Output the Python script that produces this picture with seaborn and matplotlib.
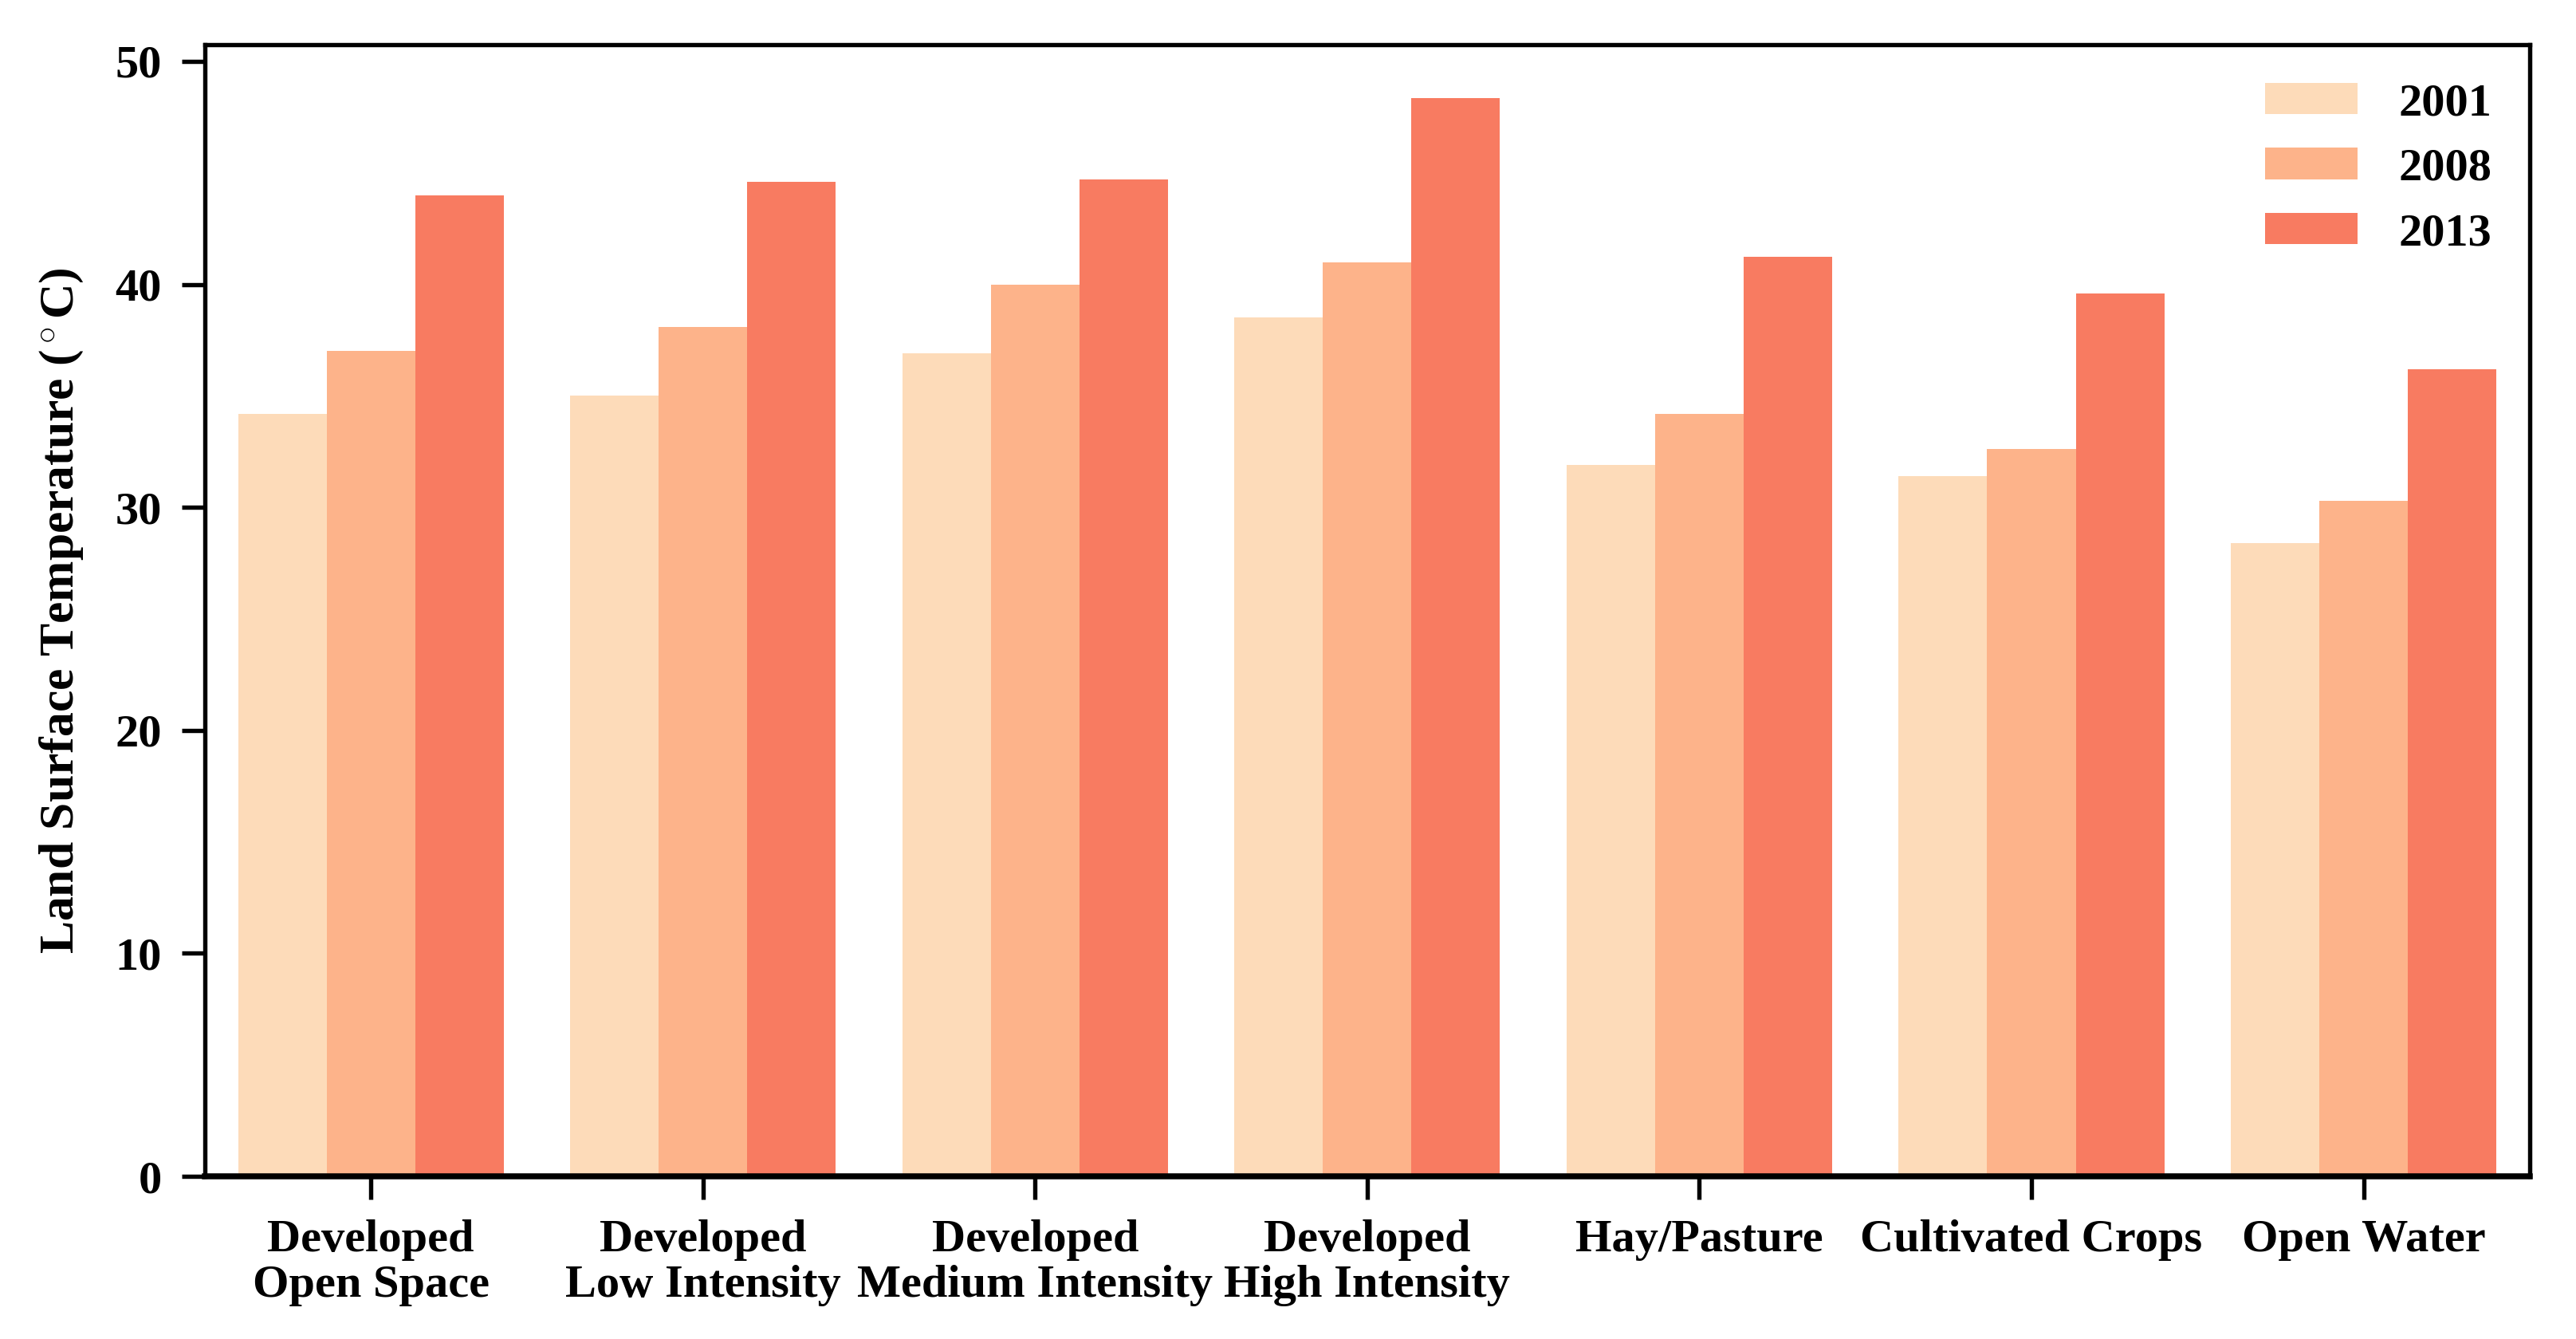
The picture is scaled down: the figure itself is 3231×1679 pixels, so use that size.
import matplotlib
matplotlib.use("Agg")
import matplotlib.pyplot as plt
import seaborn as sns
import pandas as pd

# land cover classes and mean LST per year
classes = ["Developed\nOpen Space", "Developed\nLow Intensity", "Developed\nMedium Intensity",
           "Developed\nHigh Intensity", "Hay/Pasture", "Cultivated Crops", "Open Water"]
years = ["2001", "2008", "2013"]
lst_2001 = [34.2, 35.0, 36.9, 38.5, 31.9, 31.4, 28.4]
lst_2008 = [37.0, 38.1, 40.0, 41.0, 34.2, 32.6, 30.3]
lst_2013 = [44.0, 44.6, 44.7, 48.35, 41.25, 39.6, 36.2]
colors = ["#fddbb9", "#fdb38a", "#f87b61"]

rows = []
for yr, vals in zip(years, [lst_2001, lst_2008, lst_2013]):
    for c, v in zip(classes, vals):
        rows.append({"Class": c, "Year": yr, "LST": v})
df = pd.DataFrame(rows)

sns.set_style("ticks", {"axes.edgecolor": "black", "text.color": "black",
                        "axes.labelcolor": "black", "xtick.color": "black",
                        "ytick.color": "black"})
plt.rcParams["font.family"] = ["Liberation Serif", "DejaVu Serif"]
plt.rcParams["font.weight"] = "bold"
plt.rcParams["mathtext.fontset"] = "custom"
plt.rcParams["mathtext.rm"] = "Liberation Serif:bold"
plt.rcParams["mathtext.it"] = "Liberation Serif:bold"

fig = plt.figure(figsize=(3231 / 300, 1679 / 300), dpi=300)
ax = fig.add_axes([0.0795, 0.1215, 0.9025, 0.8452])

sns.barplot(data=df, x="Class", y="LST", hue="Year", hue_order=years,
            palette=colors, saturation=1, width=0.8, ax=ax, linewidth=0)

ax.set_xlim(-0.5, 6.5)
ax.set_ylim(0, 50.75)
ax.set_yticks([0, 10, 20, 30, 40, 50])
ax.set_xlabel("")
ax.set_ylabel("Land Surface Temperature ($^\\circ$C)", fontsize=14.8, fontweight="bold", labelpad=9)

for s in ax.spines.values():
    s.set_visible(True)
    s.set_linewidth(1.3)
    s.set_color("black")
ax.spines["bottom"].set_linewidth(1.8)

ax.tick_params(axis="both", direction="out", length=7, width=1.3, labelsize=14, pad=6,
               colors="black")
for lab in ax.get_xticklabels() + ax.get_yticklabels():
    lab.set_fontweight("bold")
plt.setp(ax.get_xticklabels(), linespacing=1.12)

leg = ax.legend(loc="upper right", frameon=False, fontsize=14, handlelength=2.0,
                handleheight=0.67, handletextpad=0.87, labelspacing=0.5,
                borderaxespad=0.42)
for t in leg.get_texts():
    t.set_fontweight("bold")

fig.savefig("out.png", dpi=300)
